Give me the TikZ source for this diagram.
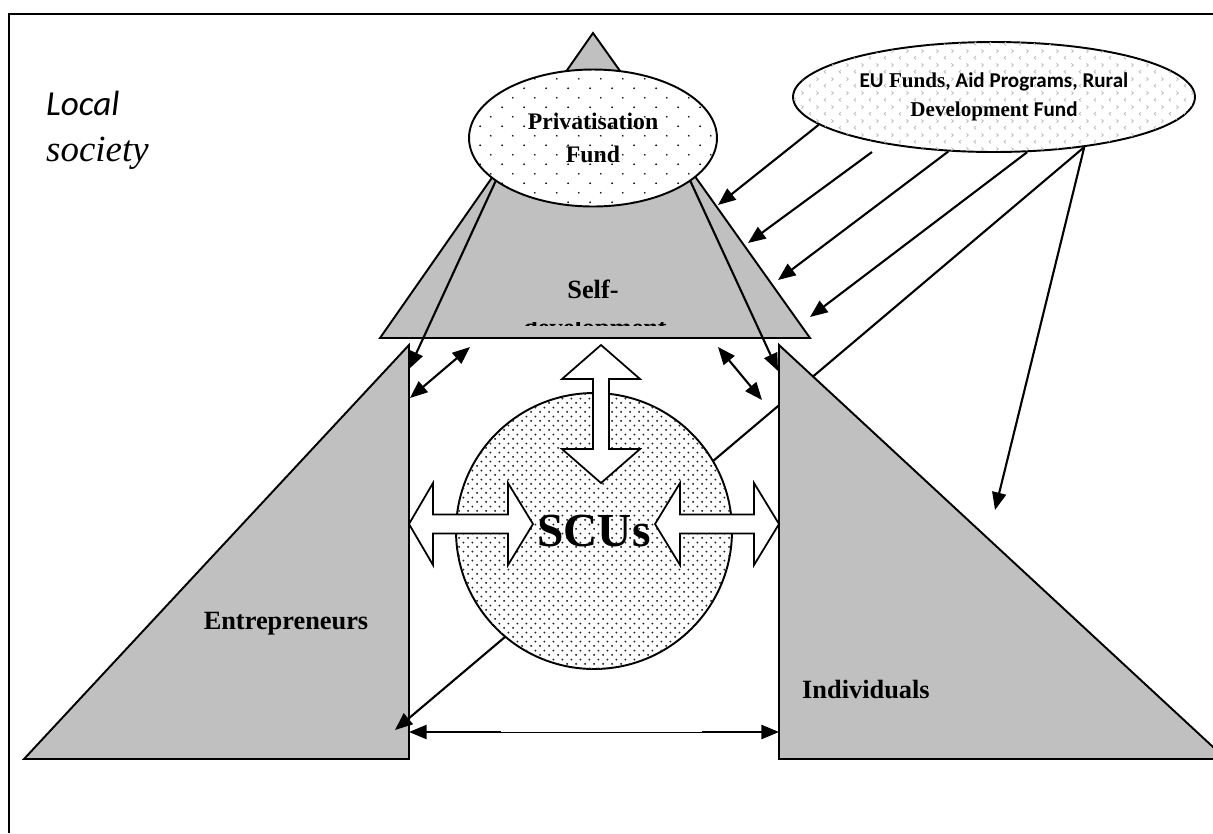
\documentclass[tikz,border=0pt]{standalone}
\usepackage{fontspec}
\setmainfont{Liberation Serif}
\newfontfamily\calibri{Carlito}
\usetikzlibrary{arrows.meta,shapes.geometric,patterns.meta}
\definecolor{massgray}{HTML}{C0C0C0}
\definecolor{chevgray}{HTML}{BEBEBE}

% fills for the three round shapes
\tikzdeclarepattern{
  name=sparsedots, type=colored,
  bottom left={(0pt,0pt)}, top right={(12.3pt,10.8pt)}, tile size={(12.3pt,10.8pt)},
  code={\fill[black] (3pt,2.7pt) circle (0.55pt);
        \fill[black] (9.15pt,8.1pt) circle (0.55pt);}
}
\tikzdeclarepattern{
  name=densedots, type=colored,
  bottom left={(0pt,0pt)}, top right={(5pt,5pt)}, tile size={(5pt,5pt)},
  code={\fill[black!85] (1.25pt,1.25pt) circle (0.62pt);
        \fill[black!85] (3.75pt,3.75pt) circle (0.62pt);}
}
\tikzdeclarepattern{
  name=chevrons, type=colored,
  bottom left={(0pt,0pt)}, top right={(8.5pt,8pt)}, tile size={(8.5pt,8pt)},
  code={\draw[chevgray,line width=0.5pt] (2.8pt,1pt) -- (1.8pt,2pt) -- (2.8pt,3pt);
        \draw[chevgray,line width=0.5pt] (6pt,5pt) -- (7pt,6pt) -- (6pt,7pt);}
}

\begin{document}
\begin{tikzpicture}[x=0.02cm,y=-0.02cm,
    flow/.style={-{Triangle[length=10pt,width=8pt]},line width=1.2pt},
    twoway/.style={{Triangle[length=10pt,width=8pt]}-{Triangle[length=10pt,width=8pt]},line width=1.2pt},
    massif/.style={draw,fill=massgray,line width=1.1pt,line join=miter},
    block/.style={draw,fill=white,line width=1pt,line join=miter},
    lbl/.style={font=\bfseries\fontsize{15}{17}\selectfont}]
  \clip (0,0) rectangle (1213,833);
  % frame, open to the right and below
  \draw[line width=1.2pt] (9,833) -- (9,14) -- (1213,14);
  \node[anchor=base west,font=\calibri\itshape\fontsize{20}{24}\selectfont] (local) at (40,115) {Local};
  \node[anchor=base west,font=\itshape\fontsize{21}{24}\selectfont] (society) at (40,161) {society};

  % outside funding
  \node[ellipse,draw,line width=1.1pt,fill=white,postaction={pattern=chevrons},
    minimum width=8.04cm,minimum height=2.2cm,inner sep=0pt,align=center,
    font=\bfseries\fontsize{12}{16.4}\selectfont] (eu) at (994,97)
    {{\calibri EU} Funds{\calibri, Aid Programs, Rural}\\Development {\calibri Fund}};

  % self-development pyramid
  \draw[massif] (593,33) -- (810,338) -- (380,338) -- cycle;
  \node[lbl,anchor=base] (self) at (593,298) {Self-};
  \begin{scope}
    \clip (520,322.5) rectangle (670,325.5);
    \node[lbl,anchor=base] (devlbl) at (595,336) {development};
  \end{scope}
  \node[ellipse,draw,line width=1.1pt,fill=white,postaction={pattern=sparsedots},
    minimum width=4.96cm,minimum height=2.74cm,inner sep=0pt,align=center,
    font=\bfseries\fontsize{13.5}{18.7}\selectfont] (pf) at (593,138) {Privatisation\\Fund};

  % entrepreneurs
  \draw[massif] (409,345) -- (409,759) -- (24,759) -- cycle;
  \node[lbl,anchor=base] (entlbl) at (286,629) {Entrepreneurs};

  % long feed, passing under individuals and the SCUs
  \coordinate (entlow) at (395,730);
  \draw[flow] (eu.331) -- (entlow);

  % individuals
  \draw[massif] (779,345) -- (779,759) -- (1226,759) -- cycle;
  \node[lbl,anchor=base west] (indlbl) at (796,698) {Individuals};

  \node[circle,draw,line width=1.1pt,fill=white,postaction={pattern=densedots},
    minimum size=5.52cm,inner sep=0pt,font=\bfseries\fontsize{27}{30}\selectfont] (scu) at (594,531) {SCUs};

  % block arrows
  \draw[block] (601,345) -- (640,379) -- (609,379) -- (609,449) -- (640,449) -- (601,483)
    -- (562,449) -- (593,449) -- (593,379) -- (562,379) -- cycle;
  \draw[block] (409,524) -- (433,483) -- (433,514.5) -- (508,514.5) -- (508,483) -- (533,524)
    -- (508,565) -- (508,533.5) -- (433,533.5) -- (433,565) -- cycle;
  \draw[block] (655,524) -- (680,483) -- (680,514.5) -- (754,514.5) -- (754,483) -- (779,524)
    -- (754,565) -- (754,533.5) -- (680,533.5) -- (680,565) -- cycle;

  % thin arrows
  \coordinate (enttop) at (409,369);
  \coordinate (indtop) at (778,371);
  \coordinate (entup) at (410,398);
  \coordinate (selfl) at (470,347);
  \coordinate (selfr) at (718,347);
  \coordinate (indup) at (762,400);
  \coordinate (entbot) at (409,732);
  \coordinate (indbot) at (779,732);
  \coordinate (eutwo) at (872,152);
  \coordinate (hit1) at (718,205);
  \coordinate (hit2) at (748,243);
  \coordinate (hit3) at (778,280);
  \coordinate (hit4) at (810,317);
  \coordinate (indmid) at (995,510);

  \draw[flow] (pf.204) -- (enttop);
  \draw[flow] (pf.336) -- (indtop);
  \draw[twoway] (entup) -- (selfl);
  \draw[twoway] (selfr) -- (indup);
  \draw[twoway] (entbot) -- (indbot);
  \draw[white,line width=0.5pt] (501,731.2) -- (702,731.2);

  \draw[flow] (eu.189) -- (hit1);
  \draw[flow] (eutwo) -- (hit2);
  \draw[flow] (eu.230) -- (hit3);
  \draw[flow] (eu.301) -- (hit4);
  \draw[flow] (eu.331) -- (indmid);
\end{tikzpicture}
\end{document}
